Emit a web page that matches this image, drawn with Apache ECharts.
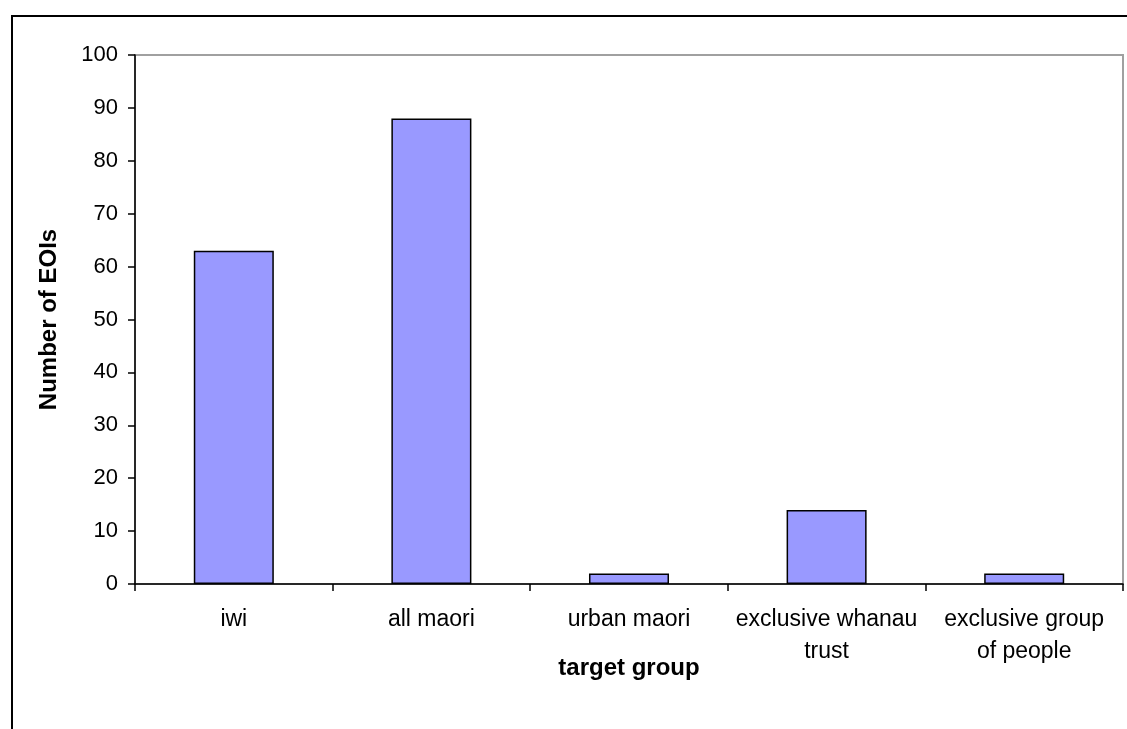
<!DOCTYPE html>
<html>
<head>
<meta charset="utf-8">
<script src="https://cdn.jsdelivr.net/npm/echarts@6/dist/echarts.min.js"></script>
<style>
  html, body { margin: 0; padding: 0; background: #fff; }
  #chart { width: 1127px; height: 729px; }
</style>
</head>
<body>
<div id="chart"></div>
<script>
// Expressions of interest by target group
const categories = ['iwi', 'all maori', 'urban maori', 'exclusive whanau\ntrust', 'exclusive group\nof people'];
const eoiCounts = [63, 88, 2, 14, 2];
const yTicks = { min: 0, max: 100, interval: 10 };

const chart = echarts.init(document.getElementById('chart'), null, { renderer: 'canvas' });
const font = '"Liberation Sans", Arial, sans-serif';

chart.setOption({
  animation: false,
  backgroundColor: '#ffffff',
  graphic: [{
    type: 'rect',
    shape: { x: 12, y: 16, width: 1200, height: 800 },
    style: { fill: 'none', stroke: '#000', lineWidth: 2 },
    silent: true,
    z: 100
  }],
  grid: {
    left: 135, right: 4, top: 55, bottom: 145,
    show: true, borderColor: '#a0a0a0', borderWidth: 2, backgroundColor: 'transparent'
  },
  xAxis: {
    type: 'category',
    data: categories,
    name: 'target group',
    nameLocation: 'middle',
    nameGap: 72,
    nameMoveOverlap: false,
    nameTextStyle: { fontFamily: font, fontWeight: 'bold', fontSize: 24, color: '#000' },
    axisLine: { lineStyle: { color: '#000', width: 1.5 } },
    axisTick: { show: true, length: 7, lineStyle: { color: '#000', width: 1.5 } },
    axisLabel: { fontFamily: font, fontSize: 23, color: '#000', margin: 20, lineHeight: 32, interval: 0 }
  },
  yAxis: {
    type: 'value',
    min: yTicks.min, max: yTicks.max, interval: yTicks.interval,
    name: 'Number of EOIs',
    nameLocation: 'middle',
    nameGap: 74,
    nameMoveOverlap: false,
    nameRotate: 90,
    nameTextStyle: { fontFamily: font, fontWeight: 'bold', fontSize: 24, color: '#000' },
    axisLine: { show: true, lineStyle: { color: '#000', width: 1.5 } },
    axisTick: { show: true, length: 7, lineStyle: { color: '#000', width: 1.5 } },
    axisLabel: { fontFamily: font, fontSize: 22, color: '#000', margin: 17 },
    splitLine: { show: false }
  },
  series: [{
    type: 'bar',
    data: eoiCounts,
    barCategoryGap: '59.5%',
    itemStyle: { color: '#9999ff', borderColor: '#000', borderWidth: 1.5 }
  }]
});
</script>
</body>
</html>
